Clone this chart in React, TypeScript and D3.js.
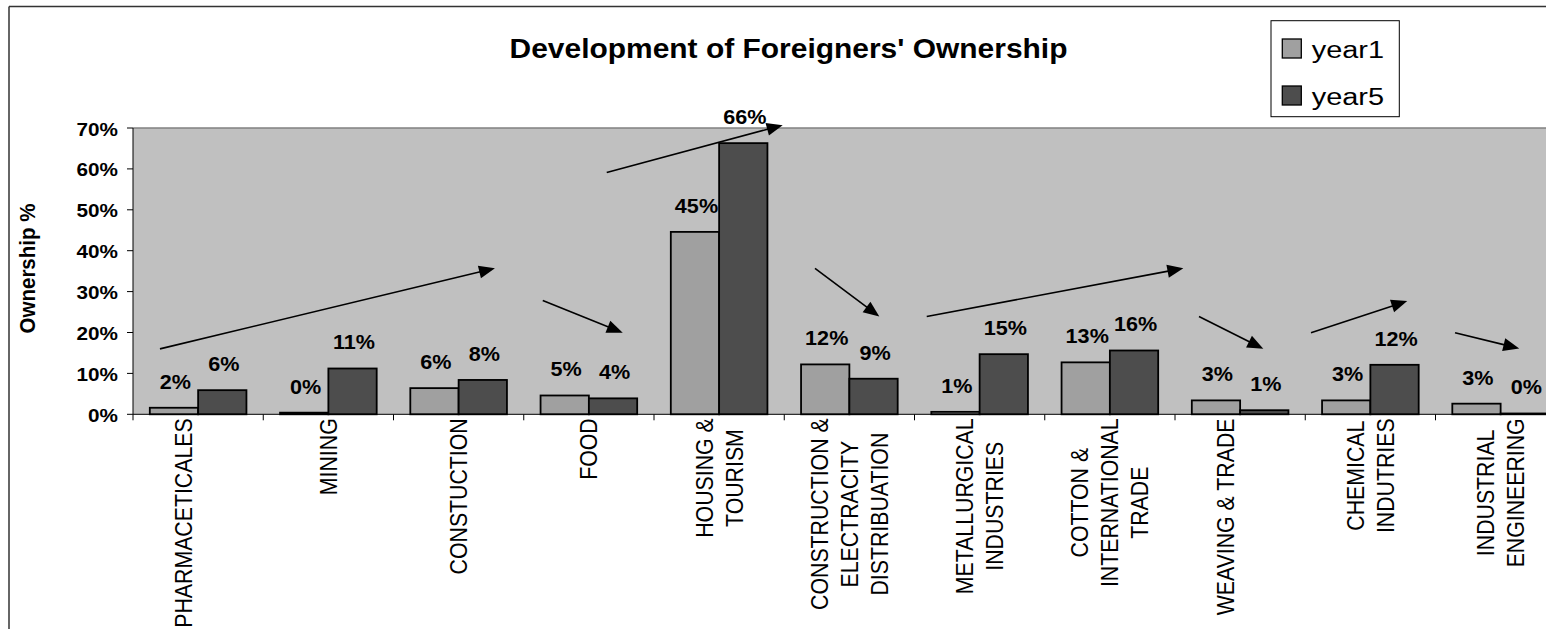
import React from "react";
import * as d3 from "d3";

// ---------------- data ----------------
const categories: string[][] = [
  ["PHARMACETICALES", ""],
  ["MINING"],
  ["CONSTUCTION"],
  ["FOOD"],
  ["HOUSING &", "TOURISM"],
  ["CONSTRUCTION &", "ELECTRACITY", "DISTRIBUATION"],
  ["METALLURGICAL", "INDUSTRIES"],
  ["COTTON &", "INTERNATIONAL", "TRADE"],
  ["WEAVING & TRADE", ""],
  ["CHEMICAL", "INDUTRIES"],
  ["INDUSTRIAL", "ENGINEERING"],
];
const seriesNames = ["year1", "year5"];
const year1 = [1.6, 0.4, 6.4, 4.6, 44.6, 12.2, 0.6, 12.7, 3.4, 3.4, 2.6];
const year5 = [5.9, 11.2, 8.4, 3.9, 66.3, 8.7, 14.7, 15.6, 1.0, 12.1, 0.2];
const yTicks = [0, 10, 20, 30, 40, 50, 60, 70];
const chartTitle = "Development of Foreigners' Ownership";
const yAxisTitle = "Ownership %";
// trend arrows: [fromCategoryPos, fromValue, toCategoryPos, toValue]
const trendArrows: [number, number, number, number][] = [
  [0.207, 16.0, 2.779, 35.7],
  [3.146, 27.8, 3.76, 19.95],
  [3.637, 59.1, 4.988, 70.7],
  [5.236, 35.7, 5.73, 23.9],
  [6.094, 23.9, 8.064, 35.7],
  [8.184, 23.9, 8.678, 16.0],
  [9.044, 19.95, 9.783, 27.7],
  [10.15, 19.95, 10.643, 16.1],
];

// ---------------- layout ----------------
const W = 1546;
const H = 629;
const FONT = "'Liberation Sans', Arial, Helvetica, sans-serif";
const plotLeft = 133;
const plotTop = 128;
const plotBottom = 414.3;
const catStep = 130.25;
const plotRight = plotLeft + catStep * categories.length;

const colors: Record<string, string> = { year1: "#A0A0A0", year5: "#4D4D4D" };

let _ctx: CanvasRenderingContext2D | null = null;
function measure(text: string, font: string): number {
  if (!_ctx) _ctx = document.createElement("canvas").getContext("2d");
  if (!_ctx) return text.length * 12;
  _ctx.font = font;
  return _ctx.measureText(text).width;
}

export default function App() {
  const idx = categories.map((_, i) => String(i));
  const x0 = d3.scaleBand<string>().domain(idx).range([plotLeft, plotRight]).paddingInner(0).paddingOuter(0);
  const x1 = d3
    .scaleBand<string>()
    .domain(seriesNames)
    .range([0, x0.bandwidth()])
    .paddingInner(0)
    .paddingOuter(0.348);
  const xPos = d3.scaleLinear().domain([0, categories.length]).range([plotLeft, plotRight]);
  const y = d3.scaleLinear().domain([0, 70]).range([plotBottom, plotTop]);
  const fmt = (v: number) => d3.format(".0f")(v) + "%";

  const seriesData: Record<string, number[]> = { year1, year5 };

  const labelFontSize = 21.3;
  const labelSx = 1.1;
  const labelLineGap = 30;
  const labelCap = labelFontSize * 0.716;

  const valueFontSize = 20;
  const valueSx = 1.08;
  const tickFontSize = 19;
  const tickSx = 1.09;

  const arrowPath = (a: [number, number, number, number]) => {
    const [u0, v0, u1, v1] = a;
    const sx = xPos(u0), sy = y(v0), ex = xPos(u1), ey = y(v1);
    const dx = ex - sx, dy = ey - sy;
    const len = Math.hypot(dx, dy);
    const ux = dx / len, uy = dy / len;
    const hl = 16, hw = 6.5;
    const bx = ex - ux * hl, by = ey - uy * hl;
    return {
      line: { x1: sx, y1: sy, x2: bx + ux * 2, y2: by + uy * 2 },
      head: `M${ex},${ey}L${bx - uy * hw},${by + ux * hw}L${bx + uy * hw},${by - ux * hw}Z`,
    };
  };

  return (
    <svg
      width={W}
      height={H}
      style={{ position: "fixed", left: 0, top: 0, background: "#fff" }}
      fontFamily={FONT}
    >
      {/* outer chart border (left and top visible) */}
      <line x1={9} x2={9} y1={6.5} y2={H + 5} stroke="#333" strokeWidth={1.5} />
      <line x1={9} x2={W + 5} y1={6.5} y2={6.5} stroke="#333" strokeWidth={1.5} />

      {/* plot area */}
      <rect x={plotLeft} y={plotTop} width={plotRight - plotLeft} height={plotBottom - plotTop} fill="#C0C0C0" />
      <line x1={plotLeft} x2={plotRight} y1={plotTop} y2={plotTop} stroke="#808080" strokeWidth={1.5} />

      {/* title */}
      <text
        transform={`translate(788.5,57.5) scale(1.07,1)`}
        textAnchor="middle"
        fontWeight="bold"
        fontSize={28}
      >
        {chartTitle}
      </text>

      {/* y axis title */}
      <text
        transform={`translate(34.5,268.5) scale(1.06,1) rotate(-90)`}
        textAnchor="middle"
        fontWeight="bold"
        fontSize={20.5}
      >
        {yAxisTitle}
      </text>

      {/* bars */}
      {categories.map((_, i) =>
        seriesNames.map((s) => {
          const v = seriesData[s][i];
          const bx = (x0(String(i)) as number) + (x1(s) as number);
          return (
            <rect
              key={`b-${i}-${s}`}
              x={bx}
              y={y(v)}
              width={x1.bandwidth()}
              height={y(0) - y(v)}
              fill={colors[s]}
              stroke="#000"
              strokeWidth={1.8}
            />
          );
        })
      )}

      {/* y axis */}
      <line x1={plotLeft} x2={plotLeft} y1={plotTop} y2={plotBottom} stroke="#000" strokeWidth={1} />
      {yTicks.map((t) => (
        <g key={`yt-${t}`}>
          <line x1={plotLeft - 6} x2={plotLeft} y1={y(t)} y2={y(t)} stroke="#000" strokeWidth={1} />
          <text
            transform={`translate(118,${y(t) + 7.5}) scale(${tickSx},1)`}
            textAnchor="end"
            fontWeight="bold"
            fontSize={tickFontSize}
          >
            {fmt(t)}
          </text>
        </g>
      ))}

      {/* x axis */}
      <line x1={plotLeft} x2={plotRight} y1={plotBottom} y2={plotBottom} stroke="#000" strokeWidth={1} />
      {d3.range(categories.length + 1).map((k) => (
        <line
          key={`xt-${k}`}
          x1={xPos(k)}
          x2={xPos(k)}
          y1={plotBottom}
          y2={plotBottom + 6}
          stroke="#000"
          strokeWidth={1}
        />
      ))}

      {/* value labels */}
      {categories.map((_, i) =>
        seriesNames.map((s) => {
          const v = seriesData[s][i];
          const cx = (x0(String(i)) as number) + (x1(s) as number) + x1.bandwidth() / 2 + 1.5;
          return (
            <text
              key={`vl-${i}-${s}`}
              transform={`translate(${cx},${y(v) - 19}) scale(${valueSx},1)`}
              textAnchor="middle"
              fontWeight="bold"
              fontSize={valueFontSize}
            >
              {fmt(v)}
            </text>
          );
        })
      )}

      {/* category labels */}
      {categories.map((lines, i) => {
        const cx = (x0(String(i)) as number) + x0.bandwidth() / 2;
        const font = `${labelFontSize}px ${FONT}`;
        const maxW = d3.max(lines, (l) => measure(l, font)) || 0;
        const cy = plotBottom + 4 + maxW / 2;
        const n = lines.length;
        return (
          <g key={`cl-${i}`}>
            {lines.map((l, j) => {
              const lc = cx + (j - (n - 1) / 2) * labelLineGap;
              const bx = lc + (labelCap * labelSx) / 2;
              return (
                <text
                  key={j}
                  transform={`translate(${bx},${cy}) scale(${labelSx},1) rotate(-90)`}
                  textAnchor="middle"
                  fontSize={labelFontSize}
                >
                  {l}
                </text>
              );
            })}
          </g>
        );
      })}

      {/* trend arrows */}
      {trendArrows.map((a, i) => {
        const p = arrowPath(a);
        return (
          <g key={`ar-${i}`}>
            <line {...p.line} stroke="#000" strokeWidth={1.6} />
            <path d={p.head} fill="#000" />
          </g>
        );
      })}

      {/* legend */}
      <rect x={1271} y={20.7} width={128.3} height={96} fill="#fff" stroke="#000" strokeWidth={1} />
      {seriesNames.map((s, i) => (
        <g key={`lg-${s}`}>
          <rect x={1282.3} y={39 + i * 47} width={19} height={19} fill={colors[s]} stroke="#000" strokeWidth={1.3} />
          <text
            transform={`translate(1311.7,${58 + i * 47}) scale(1.18,1)`}
            fontSize={24.5}
          >
            {s}
          </text>
        </g>
      ))}
    </svg>
  );
}
